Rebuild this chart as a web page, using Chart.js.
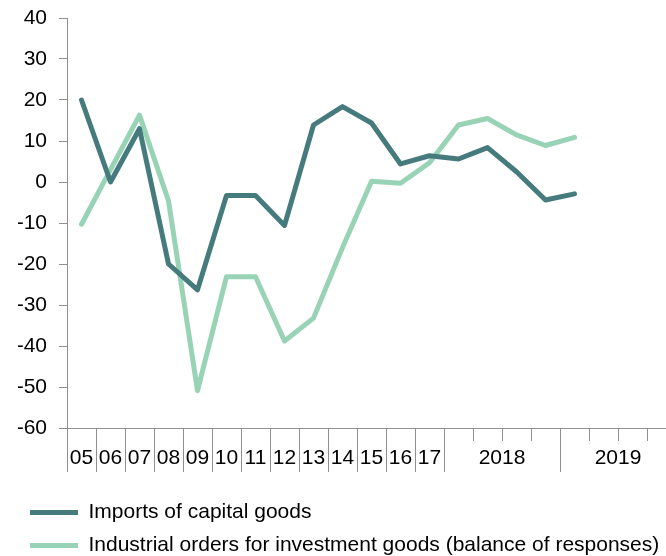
<!DOCTYPE html>
<html>
<head>
<meta charset="utf-8">
<script src="https://cdn.jsdelivr.net/npm/chart.js@4/dist/chart.umd.min.js"></script>
<style>
  html, body { margin: 0; padding: 0; background: #fff; }
  #wrap { width: 666px; height: 556px; overflow: hidden; }
</style>
</head>
<body>
<div id="wrap"><canvas id="grafica" width="690" height="556"></canvas></div>
<script>
// categories: years 2005-2017, then quarters of 2018 and 2019
var categories = ['05','06','07','08','09','10','11','12','13','14','15','16','17',
                  '2018 I','2018 II','2018 III','2018 IV','2019 I','2019 II','2019 III','2019 IV'];
var imports = [20, 0, 13, -20, -26.3, -3.3, -3.3, -10.6, 13.9, 18.4, 14.4, 4.4, 6.4,
               5.6, 8.4, 2.5, -4.4, -2.9, null, null, null];
var orders = [-10.3, 3, 16.3, -4.6, -50.9, -23.1, -23.1, -38.8, -33.2, -16, 0.2, -0.3, 4.7,
              13.9, 15.5, 11.5, 8.9, 10.9, null, null, null];
var yTicks = { min: -60, max: 40, step: 10 };

var colores = { dark: '#467b7e', light: '#99d3b6', axis: '#8f8f8f' };
var fuente = 'Liberation Sans, Arial, sans-serif';

// tick label of a category: the year for quarters, else the category itself
function grupo(c) { return c.split(' ')[0]; }

var ejeX = {
  id: 'ejeX',
  afterDraw: function(chart) {
    var ctx = chart.ctx, sx = chart.scales.x, area = chart.chartArea;
    var half = (sx.getPixelForValue(1) - sx.getPixelForValue(0)) / 2;
    var y0 = area.bottom;
    ctx.save();
    ctx.strokeStyle = colores.axis;
    ctx.lineWidth = 1;
    for (var i = 0; i <= categories.length; i++) {
      var x = Math.round((i < categories.length ? sx.getPixelForValue(i) - half : sx.getPixelForValue(i - 1) + half)) + 0.5;
      var largo = i === 0 || i === categories.length || grupo(categories[i]) !== grupo(categories[i - 1]);
      ctx.beginPath();
      ctx.moveTo(x, y0);
      ctx.lineTo(x, y0 + (largo ? 44 : 13));
      ctx.stroke();
    }
    // labels centred on each group
    ctx.fillStyle = '#000';
    ctx.font = '21px ' + fuente;
    ctx.textAlign = 'center';
    ctx.textBaseline = 'middle';
    var start = 0;
    for (var j = 1; j <= categories.length; j++) {
      if (j === categories.length || grupo(categories[j]) !== grupo(categories[start])) {
        var xc = (sx.getPixelForValue(start) + sx.getPixelForValue(j - 1)) / 2;
        ctx.fillText(grupo(categories[start]), xc, y0 + 30);
        start = j;
      }
    }
    ctx.restore();
  }
};

new Chart(document.getElementById('grafica'), {
  type: 'line',
  data: {
    labels: categories,
    datasets: [
      {
        label: 'Imports of capital goods',
        data: imports,
        borderColor: colores.dark,
        backgroundColor: colores.dark,
        borderWidth: 5,
        pointRadius: 0,
        borderJoinStyle: 'round',
        borderCapStyle: 'round',
        fill: false
      },
      {
        label: 'Industrial orders for investment goods (balance of responses)',
        data: orders,
        borderColor: colores.light,
        backgroundColor: colores.light,
        borderWidth: 5,
        pointRadius: 0,
        borderJoinStyle: 'round',
        borderCapStyle: 'round',
        fill: false
      }
    ]
  },
  options: {
    responsive: false,
    animation: false,
    layout: { padding: { top: 18, right: 14, left: 18, bottom: -10 } },
    scales: {
      x: {
        offset: true,
        grid: { display: false, offset: true },
        border: { display: true, color: colores.axis, width: 1 },
        ticks: { display: false },
        afterFit: function(s) { s.height = 62; }
      },
      y: {
        min: yTicks.min,
        max: yTicks.max,
        grid: { drawOnChartArea: false, tickLength: 8, color: colores.axis },
        border: { color: colores.axis, width: 1 },
        ticks: { stepSize: yTicks.step, color: '#000', font: { size: 21, family: fuente }, padding: 12 },
        afterFit: function(s) { s.width = 49; s.paddingTop = 0; s.paddingBottom = 0; }
      }
    },
    plugins: {
      tooltip: { enabled: false },
      legend: {
        display: true,
        position: 'bottom',
        align: 'start',
        labels: {
          color: '#000',
          font: { size: 21, family: fuente },
          boxWidth: 48,
          boxHeight: 5,
          padding: 12,
          generateLabels: function(chart) {
            return Chart.defaults.plugins.legend.labels.generateLabels(chart).map(function(l) {
              l.lineWidth = 0;
              return l;
            });
          }
        }
      }
    }
  },
  plugins: [ejeX]
});
</script>
</body>
</html>
